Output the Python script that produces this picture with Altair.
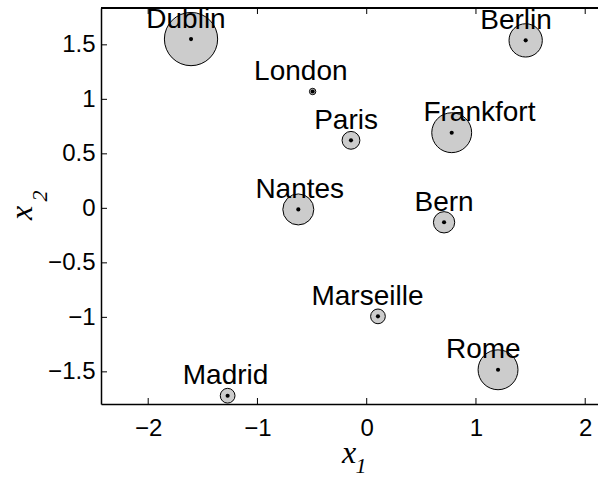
import math
import altair as alt
import pandas as pd

# City coordinates in the two-dimensional embedding
cities = ["Dublin", "Berlin", "London", "Paris", "Frankfort",
          "Nantes", "Bern", "Marseille", "Rome", "Madrid"]
x1 = [-1.608, 1.455, -0.495, -0.144, 0.778, -0.626, 0.708, 0.103, 1.202, -1.273]
x2 = [1.553, 1.541, 1.072, 0.624, 0.694, -0.010, -0.128, -0.991, -1.481, -1.719]
# circle radius (in axis units) for each city
spread = [0.275, 0.172, 0.033, 0.092, 0.206, 0.160, 0.110, 0.076, 0.206, 0.076]
# horizontal anchor of each city name
label_x = [-1.654, 1.367, -0.603, -0.189, 1.032, -0.613, 0.708, 0.007, 1.067, -1.292]

x_ticks = [-2, -1, 0, 1, 2]
y_ticks = [-1.5, -1, -0.5, 0, 0.5, 1, 1.5]

X_DOMAIN = [-2.432, 2.117]
Y_DOMAIN = [-1.795, 1.838]
W, H = 497, 396
px_per_unit = W / (X_DOMAIN[1] - X_DOMAIN[0])
r_max = 0.3

df = pd.DataFrame({"city": cities, "x1": x1, "x2": x2,
                   "spread": spread, "lx": label_x})
xt = pd.DataFrame({"t": x_ticks})
yt = pd.DataFrame({"t": y_ticks})

FONT = "Liberation Sans"
SERIF = "Liberation Serif"

xs = alt.Scale(domain=X_DOMAIN, nice=False, zero=False)
ys = alt.Scale(domain=Y_DOMAIN, nice=False, zero=False)

x_axis = alt.Axis(values=x_ticks, title=None, format="~g", ticks=False,
                  grid=False, domain=True, domainColor="black", domainWidth=1.5,
                  labelFont=FONT, labelFontSize=24, labelColor="black",
                  labelPadding=12)
y_axis = alt.Axis(values=y_ticks, title=None, format="~g", ticks=False,
                  grid=False, domain=True, domainColor="black", domainWidth=1.5,
                  labelFont=FONT, labelFontSize=24, labelColor="black",
                  labelPadding=6)

circles = alt.Chart(df).mark_circle(
    fill="#cccccc", fillOpacity=1, stroke="black", strokeWidth=1, opacity=1
).encode(
    x=alt.X("x1:Q", scale=xs, axis=x_axis),
    y=alt.Y("x2:Q", scale=ys, axis=y_axis),
    size=alt.Size("spread:Q", legend=None,
                  scale=alt.Scale(type="pow", exponent=2, domain=[0, r_max],
                                  range=[0, math.pi * (r_max * px_per_unit) ** 2])),
)

dots = alt.Chart(df).mark_circle(color="black", size=17, opacity=1).encode(
    x=alt.X("x1:Q", scale=xs), y=alt.Y("x2:Q", scale=ys)
)

names = alt.Chart(df).mark_text(
    font=FONT, fontSize=28, color="black", align="center",
    baseline="alphabetic", dy=-11.5
).encode(
    x=alt.X("lx:Q", scale=xs), y=alt.Y("x2:Q", scale=ys), text="city:N"
)

# inward tick marks on left, bottom and top edges
TL = 6
left_ticks = alt.Chart(yt).mark_rule(color="black", strokeWidth=1).encode(
    y=alt.Y("t:Q", scale=ys), x=alt.value(0), x2=alt.value(TL))
bottom_ticks = alt.Chart(xt).mark_rule(color="black", strokeWidth=1).encode(
    x=alt.X("t:Q", scale=xs), y=alt.value(H), y2=alt.value(H - TL))
top_ticks = alt.Chart(xt).mark_rule(color="black", strokeWidth=1).encode(
    x=alt.X("t:Q", scale=xs), y=alt.value(0), y2=alt.value(TL))
top_line = alt.Chart(xt).mark_rule(color="black", strokeWidth=1.5).encode(
    x=alt.value(0), x2=alt.value(W), y=alt.value(0))

# axis titles: italic x with subscript index
title_df = pd.DataFrame({"a": [0]})
xt_main = alt.Chart(title_df).mark_text(
    font=SERIF, fontStyle="italic", fontSize=32, align="center",
    baseline="alphabetic", color="black", text="x"
).encode(x=alt.value(248), y=alt.value(455))
xt_sub = alt.Chart(title_df).mark_text(
    font=SERIF, fontStyle="italic", fontSize=22, align="center",
    baseline="alphabetic", color="black", text="1"
).encode(x=alt.value(260), y=alt.value(465))
yt_main = alt.Chart(title_df).mark_text(
    font=SERIF, fontStyle="italic", fontSize=32, align="center",
    baseline="alphabetic", color="black", text="x", angle=270
).encode(x=alt.value(-69.5), y=alt.value(205))
yt_sub = alt.Chart(title_df).mark_text(
    font=SERIF, fontStyle="italic", fontSize=22, align="center",
    baseline="alphabetic", color="black", text="2", angle=270
).encode(x=alt.value(-54.5), y=alt.value(188))

chart = alt.layer(
    circles, dots, names, left_ticks, bottom_ticks, top_ticks, top_line,
    xt_main, xt_sub, yt_main, yt_sub
).properties(
    width=W, height=H,
    autosize=alt.AutoSizeParams(type="none"),
    padding={"left": 101, "top": 8, "right": 0, "bottom": 81},
    background="white",
).configure_view(stroke=None)

chart.save("out.html", embed_options={"renderer": "svg", "actions": False})
